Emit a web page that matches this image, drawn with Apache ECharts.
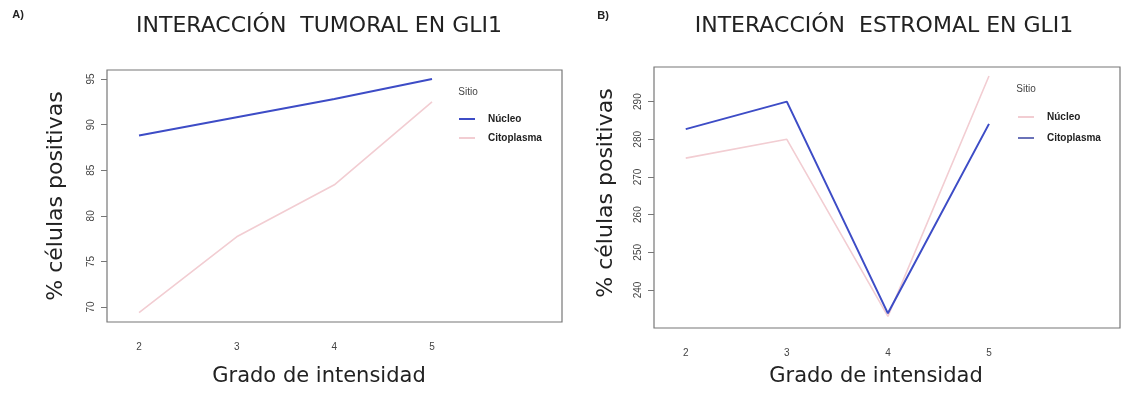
<!DOCTYPE html>
<html>
<head>
<meta charset="utf-8">
<script src="https://cdn.jsdelivr.net/npm/echarts@6/dist/echarts.min.js"></script>
<style>
  html, body { margin: 0; padding: 0; background: #fff; }
  #chart { width: 1123px; height: 396px; }
</style>
</head>
<body>
<div id="chart"></div>
<script>
// grado de intensidad
const grados = [2, 3, 4, 5];

// panel A: tumoral
const tumoralNucleo = [88.8, 90.8, 92.8, 95.0];
const tumoralCitoplasma = [69.4, 77.7, 83.4, 92.5];
const tumoralTicks = [70, 75, 80, 85, 90, 95];

// panel B: estromal
const estromalNucleo = [275.0, 280.0, 233.0, 296.8];
const estromalCitoplasma = [282.7, 290.0, 233.8, 284.1];
const estromalTicks = [240, 250, 260, 270, 280, 290];

const BLUE = "#3d4cc6";
const PINK = "#f2cdd2";
const FONT = "Liberation Sans, Arial, sans-serif";
const TITLE_FONT = "DejaVu Sans, sans-serif";

const pairs = (ys) => grados.map((g, i) => [g, ys[i]]);

var chart = echarts.init(document.getElementById("chart"));

function xAxisFor(idx, min, max) {
  return {
    type: "value", gridIndex: idx, min: min, max: max,
    splitLine: { show: false },
    axisLine: { show: false },
    axisTick: { show: false },
    axisLabel: {
      customValues: grados, margin: 20, fontSize: 10, color: "#444",
      fontFamily: FONT
    }
  };
}

function yAxisFor(idx, min, max, ticks) {
  return {
    type: "value", gridIndex: idx, min: min, max: max,
    splitLine: { show: false },
    axisLine: { show: false },
    axisTick: { show: true, customValues: ticks, length: 6, lineStyle: { color: "#777" } },
    axisLabel: {
      customValues: ticks, rotate: 90, margin: 11, fontSize: 10, color: "#444",
      fontFamily: FONT
    }
  };
}

// series names carry a panel suffix so the two legends stay apart
function legendFor(left, top, gap, names, colors) {
  return {
    orient: "vertical", left: left, top: top, padding: 0,
    itemWidth: 16, itemHeight: 2, itemGap: gap,
    icon: "rect",
    formatter: (name) => name.split(" ")[0],
    textStyle: { fontSize: 10, fontWeight: "bold", color: "#222", fontFamily: FONT, padding: [0, 0, 0, 8] },
    data: names.map((n, i) => ({ name: n, icon: "rect", itemStyle: { color: colors[i] } })),
    selectedMode: false
  };
}

function text(x, y, str, size, extra) {
  return {
    type: "text", x: x, y: y,
    style: Object.assign({
      text: str, fontSize: size, fontFamily: FONT, fill: "#222",
      textAlign: "center", textVerticalAlign: "middle"
    }, extra || {})
  };
}

var option = {
  animation: false,
  backgroundColor: "#fff",
  grid: [
    { left: 107, top: 70, width: 455, height: 252, show: true, borderColor: "#777", borderWidth: 1.2 },
    { left: 654, top: 67, width: 466, height: 261, show: true, borderColor: "#777", borderWidth: 1.2 }
  ],
  xAxis: [xAxisFor(0, 1.672, 6.331), xAxisFor(1, 1.686, 6.296)],
  yAxis: [yAxisFor(0, 68.36, 95.99, tumoralTicks), yAxisFor(1, 229.9, 299.2, estromalTicks)],
  legend: [
    legendFor(459, 114, 9, ["Núcleo A", "Citoplasma A"], [BLUE, PINK]),
    legendFor(1018, 112, 11, ["Núcleo B", "Citoplasma B"], [PINK, "#6a72b8"])
  ],
  series: [
    { name: "Núcleo A", type: "line", xAxisIndex: 0, yAxisIndex: 0, symbol: "none",
      data: pairs(tumoralNucleo), lineStyle: { color: BLUE, width: 2 }, itemStyle: { color: BLUE } },
    { name: "Citoplasma A", type: "line", xAxisIndex: 0, yAxisIndex: 0, symbol: "none",
      data: pairs(tumoralCitoplasma), lineStyle: { color: PINK, width: 1.6 }, itemStyle: { color: PINK } },
    { name: "Núcleo B", type: "line", xAxisIndex: 1, yAxisIndex: 1, symbol: "none",
      data: pairs(estromalNucleo), lineStyle: { color: PINK, width: 1.6 }, itemStyle: { color: PINK } },
    { name: "Citoplasma B", type: "line", xAxisIndex: 1, yAxisIndex: 1, symbol: "none",
      data: pairs(estromalCitoplasma), lineStyle: { color: BLUE, width: 2 }, itemStyle: { color: BLUE } }
  ],
  graphic: [
    text(18, 15, "A)", 11, { fontWeight: "bold" }),
    text(603, 16, "B)", 11, { fontWeight: "bold" }),
    text(319, 26, "INTERACCIÓN  TUMORAL EN GLI1", 22, { fontFamily: TITLE_FONT }),
    text(884, 26, "INTERACCIÓN  ESTROMAL EN GLI1", 22, { fontFamily: TITLE_FONT }),
    text(319, 377, "Grado de intensidad", 21, { fontFamily: TITLE_FONT }),
    text(876, 377, "Grado de intensidad", 21, { fontFamily: TITLE_FONT }),
    Object.assign(text(56, 196, "% células positivas", 22, { fontFamily: TITLE_FONT }), { rotation: Math.PI / 2 }),
    Object.assign(text(606, 193, "% células positivas", 22, { fontFamily: TITLE_FONT }), { rotation: Math.PI / 2 }),
    text(468, 92, "Sitio", 10, { fill: "#444" }),
    text(1026, 89, "Sitio", 10, { fill: "#444" })
  ]
};

chart.setOption(option);
</script>
</body>
</html>
